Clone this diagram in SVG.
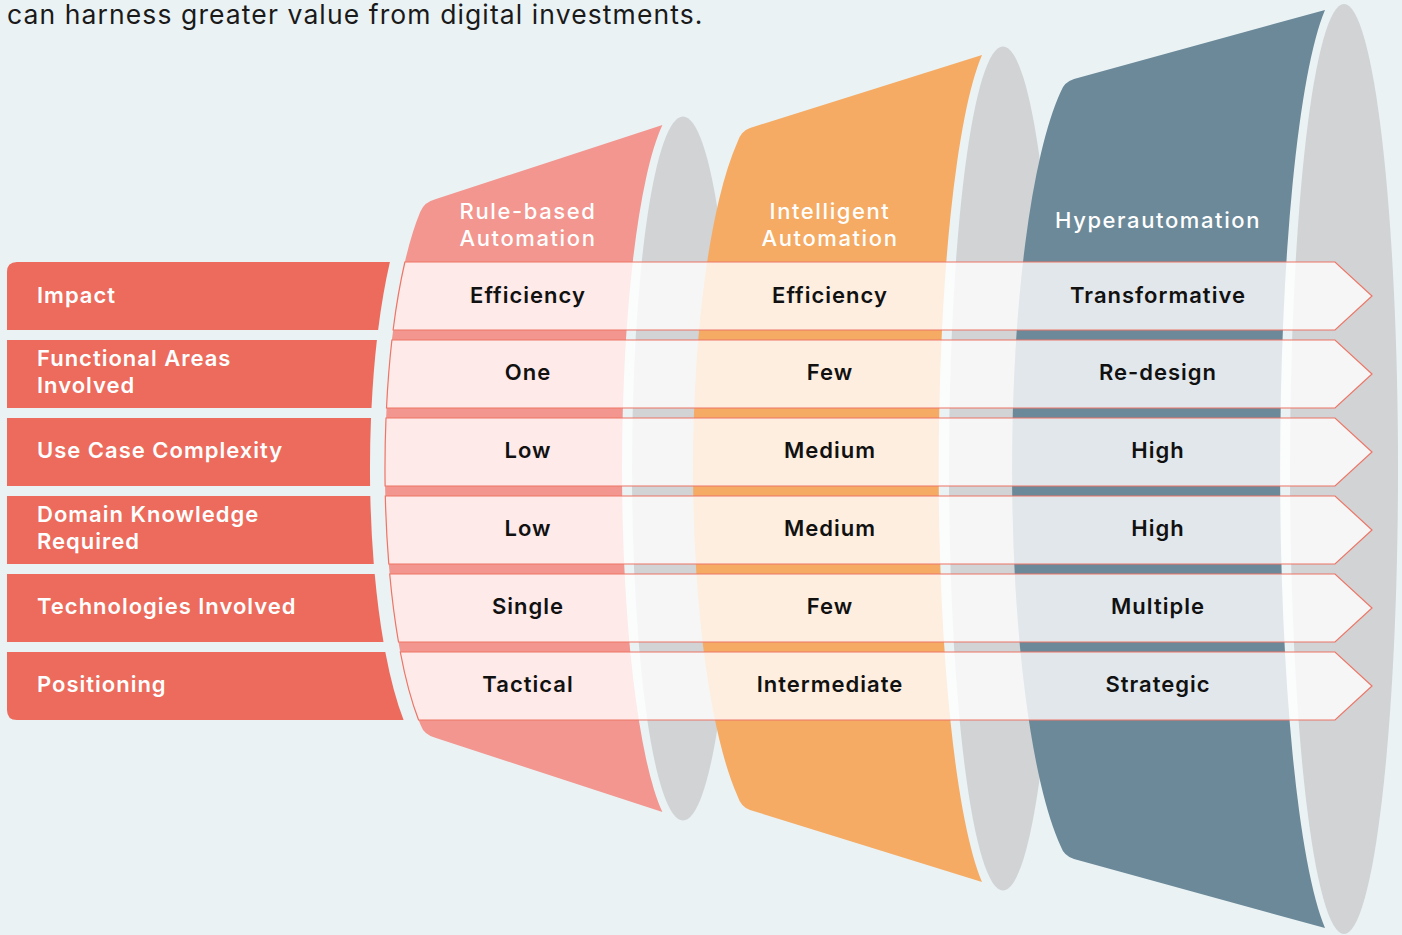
<svg xmlns="http://www.w3.org/2000/svg" width="1402" height="935" viewBox="0 0 1402 935">
<style>
.bg{fill:#eaf2f4}
.gray{fill:#d1d3d5}
.seg1{fill:#f2968f}
.seg2{fill:#f5ab64}
.seg3{fill:#6b8999}
.box{fill:#ec6b5c}
.row{fill:#ffffff;fill-opacity:0.8;stroke:#ee7566;stroke-width:1.2}
.val{font-family:Inter,"Noto Sans",sans-serif;font-size:22px;font-weight:600;fill:#111111;text-anchor:middle;letter-spacing:1px}
.lbl{font-family:Inter,"Noto Sans",sans-serif;font-size:22px;font-weight:600;fill:#ffffff;letter-spacing:1px}
.hdr{font-family:Inter,"Noto Sans",sans-serif;font-size:22px;font-weight:500;fill:#ffffff;text-anchor:middle;letter-spacing:1.6px}
.top{font-family:Inter,"Noto Sans",sans-serif;font-size:26.5px;font-weight:400;fill:#1a1a1a;letter-spacing:1.1px}
</style>
<rect class="bg" x="0" y="0" width="1402" height="935"/>
<text class="top" x="7" y="24">can harness greater value from digital investments.</text>

<g id="funnel-rule-based">
<path class="seg1" d="M420.2,212 Q424,202 436,199 L662.4,125 A61 365 0 0 0 662.4,812 L436,738 Q424,735 420.6,725 A70 295 0 0 1 420.2,212 Z"/>
<ellipse class="gray" cx="683" cy="468.5" rx="51" ry="352"/>
<text class="hdr" x="528" y="219">Rule-based</text>
<text class="hdr" x="528" y="246">Automation</text>
</g>
<g id="funnel-intelligent">
<path class="seg2" d="M737.5,142 Q741,131 750,128 L982,55 A64 437 0 0 0 982,882 L750,810 Q741,807 737.5,796 A80 365 0 0 1 737.5,142 Z"/>
<ellipse class="gray" cx="1003" cy="468.5" rx="54" ry="422"/>
<text class="hdr" x="830" y="219">Intelligent</text>
<text class="hdr" x="830" y="246">Automation</text>
</g>
<g id="funnel-hyper">
<path class="seg3" d="M1060.6,92 Q1064,82 1074,79 L1325,10 A64 481 0 0 0 1325,928 L1074,859 Q1064,856 1060.6,846 A80 410 0 0 1 1060.6,92 Z"/>
<ellipse class="gray" cx="1344" cy="469" rx="54" ry="465"/>
<text class="hdr" x="1158" y="228">Hyperautomation</text>
</g>

<g id="connectors"></g>

<g id="row-impact">
<path class="box" d="M7,272 Q7,262 17,262 L389.9,262 A70 295 0 0 0 378.1,330 L7,330 Z"/>
<text class="lbl" x="37" y="303">Impact</text>
<path class="row" d="M404.9,262 L1335,262 L1372,296 L1335,330 L393.1,330 A70 295 0 0 1 404.9,262 Z"/>
<text class="val" x="528" y="303">Efficiency</text>
<text class="val" x="830" y="303">Efficiency</text>
<text class="val" x="1158" y="303">Transformative</text>
</g>
<g id="row-functional">
<path class="box" d="M7,340 L376.9,340 A70 295 0 0 0 371.5,408 L7,408 Z"/>
<text class="lbl" x="37" y="366">Functional Areas</text>
<text class="lbl" x="37" y="393">Involved</text>
<path class="row" d="M391.9,340 L1335,340 L1372,374 L1335,408 L386.5,408 A70 295 0 0 1 391.9,340 Z"/>
<text class="val" x="528" y="380">One</text>
<text class="val" x="830" y="380">Few</text>
<text class="val" x="1158" y="380">Re-design</text>
</g>
<g id="row-complexity">
<path class="box" d="M7,418 L371,418 A70 295 0 0 0 370.1,486 L7,486 Z"/>
<text class="lbl" x="37" y="458">Use Case Complexity</text>
<path class="row" d="M386,418 L1335,418 L1372,452 L1335,486 L385.1,486 A70 295 0 0 1 386,418 Z"/>
<text class="val" x="528" y="458">Low</text>
<text class="val" x="830" y="458">Medium</text>
<text class="val" x="1158" y="458">High</text>
</g>
<g id="row-domain">
<path class="box" d="M7,496 L370.3,496 A70 295 0 0 0 373.8,564 L7,564 Z"/>
<text class="lbl" x="37" y="522">Domain Knowledge</text>
<text class="lbl" x="37" y="549">Required</text>
<path class="row" d="M385.3,496 L1335,496 L1372,530 L1335,564 L388.8,564 A70 295 0 0 1 385.3,496 Z"/>
<text class="val" x="528" y="536">Low</text>
<text class="val" x="830" y="536">Medium</text>
<text class="val" x="1158" y="536">High</text>
</g>
<g id="row-technologies">
<path class="box" d="M7,574 L374.7,574 A70 295 0 0 0 383.5,642 L7,642 Z"/>
<text class="lbl" x="37" y="614">Technologies Involved</text>
<path class="row" d="M389.7,574 L1335,574 L1372,608 L1335,642 L398.5,642 A70 295 0 0 1 389.7,574 Z"/>
<text class="val" x="528" y="614">Single</text>
<text class="val" x="830" y="614">Few</text>
<text class="val" x="1158" y="614">Multiple</text>
</g>
<g id="row-positioning">
<path class="box" d="M7,652 L385.3,652 A70 295 0 0 0 403.6,720 L17,720 Q7,720 7,710 Z"/>
<text class="lbl" x="37" y="692">Positioning</text>
<path class="row" d="M400.3,652 L1335,652 L1372,686 L1335,720 L418.6,720 A70 295 0 0 1 400.3,652 Z"/>
<text class="val" x="528" y="692">Tactical</text>
<text class="val" x="830" y="692">Intermediate</text>
<text class="val" x="1158" y="692">Strategic</text>
</g>
</svg>
